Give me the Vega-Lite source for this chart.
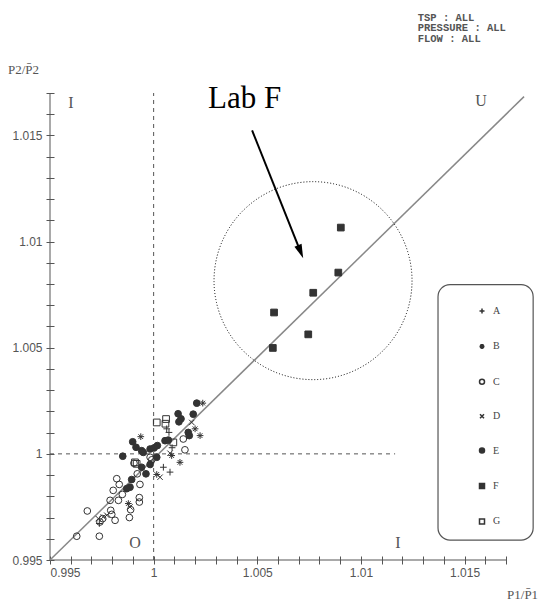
{
  "$schema": "https://vega.github.io/schema/vega-lite/v6.json",
  "width": 456,
  "height": 467,
  "autosize": {"type": "none"},
  "padding": {"left": 50, "top": 93, "right": 35, "bottom": 43},
  "background": "white",
  "config": {
    "view": {"stroke": null},
    "axis": {"grid": false, "domain": false, "tickColor": "#555", "tickSize": 8, "offset": -4, "labelFont": "Liberation Sans", "labelFontSize": 12, "labelColor": "#555"}
  },
  "datasets": {
    "pts": [
      {"x": 1.00903, "y": 1.01066, "lab": "F"},
      {"x": 1.00891, "y": 1.00854, "lab": "F"},
      {"x": 1.0077, "y": 1.00759, "lab": "F"},
      {"x": 1.00581, "y": 1.00666, "lab": "F"},
      {"x": 1.00746, "y": 1.00563, "lab": "F"},
      {"x": 1.00575, "y": 1.00499, "lab": "F"},
      {"x": 0.99905, "y": 0.99956, "lab": "C"},
      {"x": 0.99921, "y": 0.99906, "lab": "C"},
      {"x": 0.99934, "y": 0.99856, "lab": "C"},
      {"x": 1.00151, "y": 1.00019, "lab": "C"},
      {"x": 1.00143, "y": 1.0007, "lab": "C"},
      {"x": 0.99983, "y": 0.99984, "lab": "C"},
      {"x": 0.99822, "y": 0.99883, "lab": "C"},
      {"x": 0.99805, "y": 0.99828, "lab": "C"},
      {"x": 0.99849, "y": 0.99809, "lab": "C"},
      {"x": 0.9979, "y": 0.99781, "lab": "C"},
      {"x": 0.9983, "y": 0.99781, "lab": "C"},
      {"x": 0.99931, "y": 0.99794, "lab": "C"},
      {"x": 0.99931, "y": 0.99773, "lab": "C"},
      {"x": 0.99889, "y": 0.99737, "lab": "C"},
      {"x": 0.9968, "y": 0.99731, "lab": "C"},
      {"x": 0.99793, "y": 0.99734, "lab": "C"},
      {"x": 0.99798, "y": 0.99715, "lab": "C"},
      {"x": 0.99741, "y": 0.99679, "lab": "C"},
      {"x": 0.99814, "y": 0.99687, "lab": "C"},
      {"x": 0.99883, "y": 0.997, "lab": "C"},
      {"x": 0.99738, "y": 0.99612, "lab": "C"},
      {"x": 0.99629, "y": 0.99612, "lab": "C"},
      {"x": 0.99754, "y": 0.99695, "lab": "C"},
      {"x": 0.99991, "y": 0.99972, "lab": "C"},
      {"x": 0.99834, "y": 0.99856, "lab": "C"},
      {"x": 1.00208, "y": 1.00239, "lab": "E"},
      {"x": 1.00118, "y": 1.00189, "lab": "E"},
      {"x": 1.00132, "y": 1.00165, "lab": "E"},
      {"x": 1.00122, "y": 1.00151, "lab": "E"},
      {"x": 1.00191, "y": 1.00187, "lab": "E"},
      {"x": 1.00167, "y": 1.00101, "lab": "E"},
      {"x": 1.00172, "y": 1.00086, "lab": "E"},
      {"x": 0.99899, "y": 1.00057, "lab": "E"},
      {"x": 0.99915, "y": 1.00031, "lab": "E"},
      {"x": 0.99942, "y": 1.00015, "lab": "E"},
      {"x": 0.9995, "y": 1.00007, "lab": "E"},
      {"x": 0.99983, "y": 1.00023, "lab": "E"},
      {"x": 1.00002, "y": 1.00028, "lab": "E"},
      {"x": 1.00018, "y": 1.00039, "lab": "E"},
      {"x": 1.00055, "y": 1.00062, "lab": "E"},
      {"x": 1.00071, "y": 1.00065, "lab": "E"},
      {"x": 0.99851, "y": 0.99989, "lab": "E"},
      {"x": 1.00015, "y": 0.99984, "lab": "E"},
      {"x": 0.99942, "y": 0.99937, "lab": "E"},
      {"x": 0.99983, "y": 0.9995, "lab": "E"},
      {"x": 0.99963, "y": 0.99906, "lab": "E"},
      {"x": 0.99894, "y": 0.99879, "lab": "E"},
      {"x": 0.99886, "y": 0.99843, "lab": "E"},
      {"x": 0.9987, "y": 0.99836, "lab": "E"},
      {"x": 1.00015, "y": 1.00148, "lab": "G"},
      {"x": 1.0006, "y": 1.00164, "lab": "G"},
      {"x": 1.00057, "y": 1.00142, "lab": "G"},
      {"x": 1.00095, "y": 1.00054, "lab": "G"},
      {"x": 0.9991, "y": 0.9996, "lab": "G"},
      {"x": 0.99918, "y": 0.99953, "lab": "G"},
      {"x": 1.00063, "y": 1.00118, "lab": "A"},
      {"x": 1.00074, "y": 1.00101, "lab": "A"},
      {"x": 1.00047, "y": 0.99937, "lab": "A"},
      {"x": 1.00079, "y": 0.99914, "lab": "A"},
      {"x": 0.99738, "y": 0.99672, "lab": "A"},
      {"x": 1.00089, "y": 1.00029, "lab": "A"},
      {"x": 1.00237, "y": 1.00239, "lab": "B"},
      {"x": 1.002, "y": 1.00118, "lab": "B"},
      {"x": 1.00224, "y": 1.00086, "lab": "B"},
      {"x": 1.00087, "y": 0.99992, "lab": "B"},
      {"x": 1.00127, "y": 0.9996, "lab": "B"},
      {"x": 1.00015, "y": 0.99903, "lab": "B"},
      {"x": 0.99938, "y": 1.00081, "lab": "B"},
      {"x": 0.99878, "y": 0.99766, "lab": "B"},
      {"x": 1.00184, "y": 1.00148, "lab": "D"},
      {"x": 1.00031, "y": 0.9989, "lab": "D"},
      {"x": 0.99733, "y": 0.99695, "lab": "D"},
      {"x": 0.99757, "y": 0.99703, "lab": "D"},
      {"x": 0.99774, "y": 0.99711, "lab": "D"},
      {"x": 0.99886, "y": 0.9975, "lab": "D"},
      {"x": 1.00079, "y": 1.00003, "lab": "D"}
    ]
  },
  "encoding": {
    "x": {"field": "x", "type": "quantitative", "title": null, "scale": {"domain": [0.995, 1.017], "nice": false, "zero": false},
      "axis": {"title": null, "values": [0.995, 0.996, 0.997, 0.998, 0.999, 1, 1.001, 1.002, 1.003, 1.004, 1.005, 1.006, 1.007, 1.008, 1.009, 1.01, 1.011, 1.012, 1.013, 1.014, 1.015, 1.016, 1.017],
        "labelExpr": "abs(datum.value*200 - round(datum.value*200)) < 0.01 ? format(datum.value, '.4~f') : ''", "labelPadding": 3}},
    "y": {"field": "y", "type": "quantitative", "title": null, "scale": {"domain": [0.995, 1.017], "nice": false, "zero": false},
      "axis": {"title": null, "values": [0.995, 0.996, 0.997, 0.998, 0.999, 1, 1.001, 1.002, 1.003, 1.004, 1.005, 1.006, 1.007, 1.008, 1.009, 1.01, 1.011, 1.012, 1.013, 1.014, 1.015, 1.016, 1.017],
        "labelExpr": "abs(datum.value*200 - round(datum.value*200)) < 0.01 ? format(datum.value, '.4~f') : ''", "labelPadding": 4}}
  },
  "layer": [
    {
      "data": {"values": [{"x": 0.995, "y": 0.995, "y2": 1.017}]},
      "mark": {"type": "rule", "color": "#555", "strokeWidth": 1},
      "encoding": {"y2": {"field": "y2"}}
    },
    {
      "data": {"values": [{"x": 0.995, "x2": 1.017, "y": 0.995}]},
      "mark": {"type": "rule", "color": "#555", "strokeWidth": 1},
      "encoding": {"x2": {"field": "x2"}}
    },
    {
      "data": {"values": [{"x": 1, "y": 0.995, "y2": 1.017}]},
      "mark": {"type": "rule", "color": "#555", "strokeWidth": 1, "strokeDash": [4, 4]},
      "encoding": {"y2": {"field": "y2"}}
    },
    {
      "data": {"values": [{"x": 0.995, "x2": 1.01165, "y": 1}]},
      "mark": {"type": "rule", "color": "#555", "strokeWidth": 1, "strokeDash": [4, 4]},
      "encoding": {"x2": {"field": "x2"}}
    },
    {
      "data": {"values": [{"x": 0.995, "y": 0.995, "x2": 1.01787, "y2": 1.01683}]},
      "mark": {"type": "rule", "color": "#888", "strokeWidth": 1.5},
      "encoding": {"x2": {"field": "x2"}, "y2": {"field": "y2"}}
    },
    {
      "data": {"values": [{"x": 1.01372, "x2": 1.01831, "y": 0.99594, "y2": 1.00797}]},
      "mark": {"type": "rect", "fill": "white", "fillOpacity": 0, "stroke": "#555", "strokeWidth": 1.2, "cornerRadius": 12},
      "encoding": {"x2": {"field": "x2"}, "y2": {"field": "y2"}}
    },
    {
      "data": {"values": [{"x": 1.00769, "y": 1.00816}]},
      "mark": {"type": "point", "shape": "circle", "size": 39204, "filled": false, "stroke": "black", "strokeWidth": 1, "strokeDash": [1, 2], "opacity": 1},
      "encoding": {}
    },
    {
      "data": {"values": [{"x": 1.00475, "y": 1.01524, "x2": 1.00709, "y2": 1.00952}]},
      "mark": {"type": "rule", "color": "black", "strokeWidth": 2},
      "encoding": {"x2": {"field": "x2"}, "y2": {"field": "y2"}}
    },
    {
      "data": {"values": [{"x": 1.00709, "y": 1.00952}]},
      "mark": {"type": "point", "shape": "M-0.55,-1L0.55,-1L0,1Z", "size": 196, "filled": true, "color": "black", "opacity": 1, "angle": 338.3},
      "encoding": {}
    },
    {
      "data": {"values": [{"x": 1.00262, "y": 1.01631, "t": "Lab F"}]},
      "mark": {"type": "text", "font": "Liberation Serif", "fontSize": 31, "align": "left", "baseline": "alphabetic", "color": "black"},
      "encoding": {"text": {"field": "t"}}
    },
    {
      "data": {"values": [
        {"x": 0.99601, "y": 1.01655, "t": "I"},
        {"x": 1.0158, "y": 1.01664, "t": "U"},
        {"x": 0.9991, "y": 0.9958, "t": "O"},
        {"x": 1.01179, "y": 0.9958, "t": "I"}
      ]},
      "mark": {"type": "text", "font": "Liberation Serif", "fontSize": 16, "align": "center", "baseline": "middle", "color": "#555"},
      "encoding": {"text": {"field": "t"}}
    },
    {
      "data": {"values": [
        {"x": 1.01274, "y": 1.02055, "t": "TSP : ALL"},
        {"x": 1.01274, "y": 1.02004, "t": "PRESSURE : ALL"},
        {"x": 1.01274, "y": 1.01953, "t": "FLOW : ALL"}
      ]},
      "mark": {"type": "text", "font": "Liberation Mono", "fontSize": 10.5, "fontWeight": "bold", "align": "left", "baseline": "middle", "color": "#555"},
      "encoding": {"text": {"field": "t"}}
    },
    {
      "data": {"values": [{"x": 0.99297, "y": 1.01809, "t": "P2/P̄2"}]},
      "mark": {"type": "text", "font": "Liberation Serif", "fontSize": 13, "align": "left", "baseline": "middle", "color": "#555"},
      "encoding": {"text": {"field": "t"}}
    },
    {
      "data": {"values": [{"x": 1.01855, "y": 0.99336, "t": "P1/P̄1"}]},
      "mark": {"type": "text", "font": "Liberation Serif", "fontSize": 13, "align": "right", "baseline": "middle", "color": "#555"},
      "encoding": {"text": {"field": "t"}}
    },
    {
      "data": {"name": "pts"},
      "mark": {"type": "point", "filled": true, "stroke": "#333", "strokeWidth": 1, "size": 45, "opacity": 1},
      "encoding": {
        "shape": {"field": "lab", "type": "nominal",
          "scale": {"domain": ["A", "B", "C", "D", "E", "F", "G"],
            "range": ["M-1,0H1M0,-1V1", "M-1,0H1M0,-1V1M-0.7,-0.7L0.7,0.7M-0.7,0.7L0.7,-0.7", "circle", "M-0.8,-0.8L0.8,0.8M-0.8,0.8L0.8,-0.8", "circle", "square", "square"]},
          "legend": {"title": null, "orient": "none", "legendX": 427, "legendY": 213, "rowPadding": 23.4, "symbolSize": 25, "labelFont": "Liberation Serif", "labelFontSize": 10, "labelColor": "#444", "labelOffset": 6,
            "encode": {"symbols": {"update": {"stroke": {"value": "#333"}, "strokeWidth": {"value": 1}}}}}},
        "fill": {"field": "lab", "type": "nominal",
          "scale": {"domain": ["A", "B", "C", "D", "E", "F", "G"],
            "range": ["#333", "#333", "transparent", "#333", "#333", "#333", "transparent"]},
          "legend": {"title": null, "orient": "none", "legendX": 427, "legendY": 213, "rowPadding": 23.4, "symbolSize": 25, "labelFont": "Liberation Serif", "labelFontSize": 10, "labelColor": "#444", "labelOffset": 6,
            "encode": {"symbols": {"update": {"stroke": {"value": "#333"}, "strokeWidth": {"value": 1}}}}}}
      }
    }
  ]
}
